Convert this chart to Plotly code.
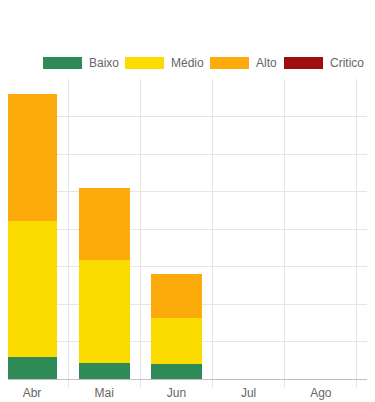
import plotly.graph_objects as go

# ---- data ----
months = ["Abr", "Mai", "Jun", "Jul", "Ago"]
baixo = [3.0, 2.1, 2.0, 0, 0]
medio = [18.1, 13.8, 6.2, 0, 0]
alto = [16.9, 9.6, 5.8, 0, 0]
critico = [0, 0, 0, 0, 0]
series_names = ["Baixo", "Médio", "Alto", "Critico"]

# ---- style ----
colors = ["#2e8b57", "#fcdc00", "#fcab0a", "#a00d0d"]
OFF = 8                      # page body margin
W, H = 375 - OFF, 402 - OFF  # figure drawn at (8, 8) inside the window
PLOT_TOP, PLOT_BOT = 79 - OFF, 379 - OFF
MT, MB = PLOT_TOP, H - PLOT_BOT
PH = PLOT_BOT - PLOT_TOP
legend_px = [43 - OFF, 125 - OFF, 210 - OFF, 284 - OFF]
legend_top, legend_bot = 57 - OFF, 69 - OFF
grid = "#e6e6e6"
font = dict(family="Liberation Sans, Arial, sans-serif", size=12, color="#666666")

fig = go.Figure()
for name, vals, c in zip(series_names, [baixo, medio, alto, critico], colors):
    fig.add_bar(x=months, y=vals, name=name, showlegend=False,
                marker=dict(color=c, line=dict(width=0)))

shapes, annots = [], []
for name, c, px in zip(series_names, colors, legend_px):
    shapes.append(dict(type="rect", xref="paper", yref="paper",
                       x0=px / W, x1=(px + 39) / W,
                       y0=(PLOT_BOT - legend_bot) / PH,
                       y1=(PLOT_BOT - legend_top) / PH,
                       fillcolor=c, line=dict(width=0)))
    annots.append(dict(xref="paper", yref="paper", x=(px + 44) / W,
                       y=(PLOT_BOT - (legend_top + legend_bot) / 2) / PH,
                       xanchor="left", yanchor="middle",
                       text=name, showarrow=False, font=font))

# category axis: centre of "Abr" at window x=32, 72.2 px per category
CAT0, CATW = 32, 72.2
x_left = (OFF - CAT0) / CATW
x_right = (375 - CAT0) / CATW

fig.update_layout(
    width=W, height=H,
    margin=dict(l=0, r=0, t=MT, b=MB, pad=0),
    barmode="stack", bargap=0.294,
    plot_bgcolor="white", paper_bgcolor="white",
    font=font, shapes=shapes, annotations=annots,
    xaxis=dict(type="category", range=[x_left, x_right], tickson="boundaries",
               showgrid=True, gridcolor=grid, gridwidth=1,
               ticks="outside", ticklen=8, tickcolor=grid,
               ticklabelstandoff=3,
               showline=True, linecolor="#bfbfbf", linewidth=1,
               tickfont=font, fixedrange=True),
    yaxis=dict(range=[0, 40], dtick=5, showgrid=True, gridcolor=grid,
               showticklabels=False, zeroline=False, fixedrange=True),
)
fig.write_html("out.html")
